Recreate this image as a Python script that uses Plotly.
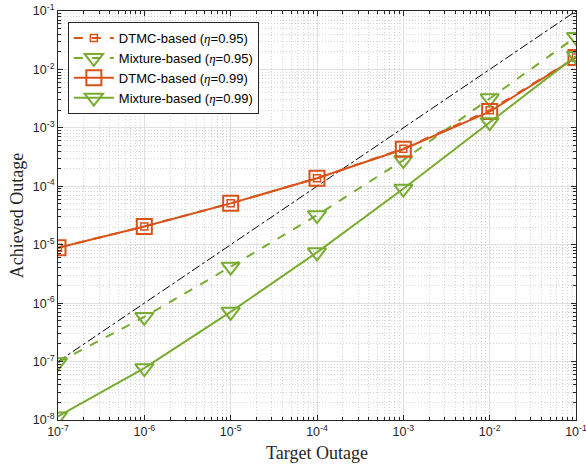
import plotly.graph_objects as go

target = [1e-7, 1e-6, 1e-5, 1e-4, 1e-3, 1e-2, 1e-1]
dtmc_095 = [8.9e-6, 2.05e-5, 5.1e-5, 1.37e-4, 4.4e-4, 2.0e-3, 1.6e-2]
mix_095 = [9.7e-8, 5.8e-7, 4.2e-6, 3.2e-5, 2.8e-4, 3.2e-3, 3.6e-2]
dtmc_099 = [8.9e-6, 2.05e-5, 5.1e-5, 1.37e-4, 4.3e-4, 1.9e-3, 1.6e-2]
mix_099 = [1.15e-8, 7.7e-8, 7.1e-7, 7.4e-6, 9.1e-5, 1.25e-3, 1.7e-2]
ref_line = [1e-7, 1e-1]

xtick_vals = [1e-7, 1e-6, 1e-5, 1e-4, 1e-3, 1e-2, 1e-1]
xtick_text = ["10<sup>-7</sup>", "10<sup>-6</sup>", "10<sup>-5</sup>", "10<sup>-4</sup>",
              "10<sup>-3</sup>", "10<sup>-2</sup>", "10<sup>-1</sup>"]
ytick_vals = [1e-8, 1e-7, 1e-6, 1e-5, 1e-4, 1e-3, 1e-2, 1e-1]
ytick_text = ["10<sup>-8</sup>", "10<sup>-7</sup>", "10<sup>-6</sup>", "10<sup>-5</sup>",
              "10<sup>-4</sup>", "10<sup>-3</sup>", "10<sup>-2</sup>", "10<sup>-1</sup>"]

ORANGE = "#D95319"
GREEN = "#77AC30"
ETA = '<span style="font-family:\'Liberation Serif\'"><i>η</i></span>'

fig = go.Figure()
fig.add_trace(go.Scatter(x=ref_line, y=ref_line, mode="lines",
                         line=dict(color="black", width=1, dash="dashdot"),
                         showlegend=False, hoverinfo="skip"))
fig.add_trace(go.Scatter(x=target, y=dtmc_095, mode="lines+markers",
                         name="DTMC-based (" + ETA + "=0.95)",
                         line=dict(color=ORANGE, width=2, dash="dash"),
                         marker=dict(symbol="square-open", size=7, color=ORANGE, line=dict(width=1.5, color=ORANGE))))
fig.add_trace(go.Scatter(x=target, y=mix_095, mode="lines+markers",
                         name="Mixture-based (" + ETA + "=0.95)",
                         line=dict(color=GREEN, width=2, dash="dash"),
                         marker=dict(symbol="triangle-down-open", size=16, color=GREEN, line=dict(width=2, color=GREEN))))
fig.add_trace(go.Scatter(x=target, y=dtmc_099, mode="lines+markers",
                         name="DTMC-based (" + ETA + "=0.99)",
                         line=dict(color=ORANGE, width=2),
                         marker=dict(symbol="square-open", size=15, color=ORANGE, line=dict(width=2, color=ORANGE))))
fig.add_trace(go.Scatter(x=target, y=mix_099, mode="lines+markers",
                         name="Mixture-based (" + ETA + "=0.99)",
                         line=dict(color=GREEN, width=2),
                         marker=dict(symbol="triangle-down-open", size=16, color=GREEN, line=dict(width=2, color=GREEN))))

minor_x = [k * 10.0 ** e for e in range(-7, -1) for k in range(2, 10)]
minor_y = [k * 10.0 ** e for e in range(-8, -1) for k in range(2, 10)]

axis_common = dict(
    type="log", showline=True, linecolor="#262626", linewidth=1, mirror="allticks",
    ticks="inside", ticklen=5, tickcolor="#262626", automargin=False,
    ticklabeloverflow="allow",
    showgrid=True, gridcolor="#e0e0e0", gridwidth=1, zeroline=False,
    tickfont=dict(family="Liberation Sans, Arial", size=12.5, color="#262626"),
)
title_font = dict(family="Liberation Serif, Times New Roman", size=18, color="#262626")
minor_common = dict(tickmode="array", ticks="inside", ticklen=3, tickcolor="#262626",
                    showgrid=True, gridcolor="#d6d6d6", griddash="1px,2px", gridwidth=1)

fig.update_xaxes(**axis_common, range=[-7, -1], tickmode="array", tickvals=xtick_vals, ticktext=xtick_text,
                 minor=dict(tickvals=minor_x, **minor_common),
                 title=dict(text="Target Outage", font=title_font, standoff=8))
fig.update_yaxes(**axis_common, range=[-8, -1], tickmode="array", tickvals=ytick_vals, ticktext=ytick_text,
                 minor=dict(tickvals=minor_y, **minor_common),
                 title=dict(text="Achieved Outage", font=title_font, standoff=4))

fig.update_layout(
    width=586, height=466,
    margin=dict(l=58, r=10, t=11, b=46),
    paper_bgcolor="white", plot_bgcolor="white",
    legend=dict(x=0.019, y=0.973, xanchor="left", yanchor="top",
                bgcolor="white", bordercolor="#262626", borderwidth=1,
                font=dict(family="Liberation Sans, Arial", size=13, color="black"),
                tracegroupgap=0, itemwidth=40),
)

# remove the default page margin so the figure fills the window exactly
fig.write_html("out.html", config={"displayModeBar": False},
               post_script="document.body.style.margin='0';document.body.style.overflow='hidden';")
